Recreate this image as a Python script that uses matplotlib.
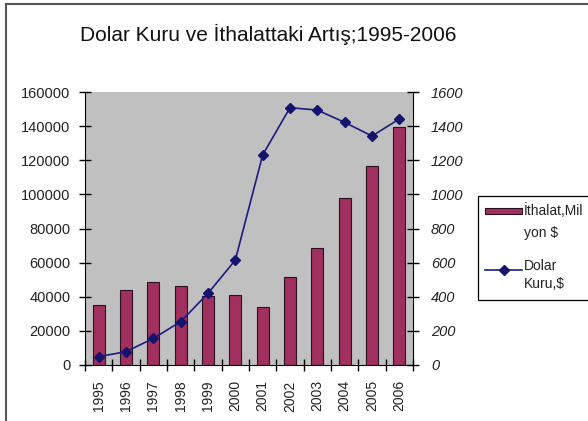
import matplotlib
matplotlib.use("Agg")
import matplotlib.pyplot as plt
from matplotlib.lines import Line2D
from matplotlib.patches import Rectangle
import numpy as np

plt.rcParams['font.family'] = ['Liberation Sans', 'DejaVu Sans']

years = ['1995', '1996', '1997', '1998', '1999', '2000', '2001', '2002', '2003', '2004', '2005', '2006']
ithalat = [35200, 43900, 48500, 46300, 40400, 41000, 34200, 51700, 68800, 97700, 116800, 139700]
dolar = [49, 78, 156, 254, 420, 615, 1231, 1508, 1494, 1422, 1342, 1442]
left_ticks = [0, 20000, 40000, 60000, 80000, 100000, 120000, 140000, 160000]
right_ticks = [0, 200, 400, 600, 800, 1000, 1200, 1400, 1600]
bar_label = 'İthalat,Mil\nyon $'
line_label = 'Dolar\nKuru,$'

W, H = 588, 421
def fx(px):
    return px / W
def fy(py):
    return 1 - py / H

bar_color = '#A0305F'
bar_edge = '#2a1020'
line_color = '#1c1c80'
mk_color = '#14146e'

fig = plt.figure(figsize=(5.88, 4.21), dpi=100)
ax = fig.add_axes([fx(85), fy(365), (413-85)/W, (365-92)/H])
ax.set_facecolor('#C0C0C0')
x = np.arange(len(years))
ax.bar(x, ithalat, width=0.45, color=bar_color, edgecolor=bar_edge, linewidth=0.8, zorder=2)
ax.set_xlim(-0.5, len(years)-0.5)
ax.set_ylim(0, 160000)
ax.set_yticks(left_ticks)
ax.set_yticklabels([str(v) for v in left_ticks], fontsize=10.5, color='#222222')
ax.set_xticks(x)
ax.set_xticklabels(years, rotation=90, fontsize=10, color='#222222')
ax.tick_params(axis='x', which='major', length=0, pad=11)
ax.set_xticks(np.arange(-0.5, len(years), 1), minor=True)
ax.tick_params(axis='x', which='minor', direction='inout', length=8, width=1)
ax.tick_params(axis='y', direction='inout', length=9, width=1, pad=6)
ax.spines['top'].set_visible(False)
ax.spines['right'].set_visible(False)

ax2 = ax.twinx()
ax2.plot(x, dolar, color=line_color, marker='D', markersize=5, markerfacecolor=mk_color,
         markeredgecolor=mk_color, linewidth=1.2, zorder=3)
ax2.set_ylim(0, 1600)
ax2.set_yticks(right_ticks)
ax2.set_yticklabels([str(v) for v in right_ticks], fontsize=10.5, style='italic', color='#222222')
ax2.tick_params(axis='y', direction='inout', length=8, width=1, pad=9)
for s in ['top', 'left', 'bottom']:
    ax2.spines[s].set_visible(False)

fig.text(fx(268), fy(34), 'Dolar Kuru ve İthalattaki Artış;1995-2006', ha='center', va='center',
         fontsize=15, color='#111111')

# legend box (drawn in figure coordinates, clipped at the right edge like the reference)
fig.add_artist(Rectangle((fx(478), fy(300)), (W - 478 + 20)/W, (300-196)/H, transform=fig.transFigure,
                         facecolor='white', edgecolor='black', linewidth=0.9))
fig.add_artist(Rectangle((fx(485), fy(214)), (522-485)/W, 6/H, transform=fig.transFigure,
                         facecolor=bar_color, edgecolor=bar_edge, linewidth=0.8))
fig.add_artist(Line2D([fx(485), fx(522)], [fy(270), fy(270)], transform=fig.transFigure,
                      color=line_color, linewidth=1.2))
fig.add_artist(Line2D([fx(503.5)], [fy(270)], transform=fig.transFigure, marker='D', markersize=5,
                      color=mk_color, linestyle='none'))
bl = bar_label.split('\n')
ll = line_label.split('\n')
fig.text(fx(524), fy(211), bl[0], ha='left', va='center', fontsize=10, color='#222222')
fig.text(fx(524), fy(233), bl[1], ha='left', va='center', fontsize=10, color='#222222')
fig.text(fx(524), fy(266), ll[0], ha='left', va='center', fontsize=10, color='#222222')
fig.text(fx(524), fy(284), ll[1], ha='left', va='center', fontsize=10, color='#222222')

fig.add_artist(Line2D([fx(6), 1], [fy(4), fy(4)], transform=fig.transFigure, color='#555555', linewidth=1.5))
fig.add_artist(Line2D([fx(6), fx(6)], [0, fy(4)], transform=fig.transFigure, color='#555555', linewidth=1.5))

fig.savefig('out.png', dpi=100)
